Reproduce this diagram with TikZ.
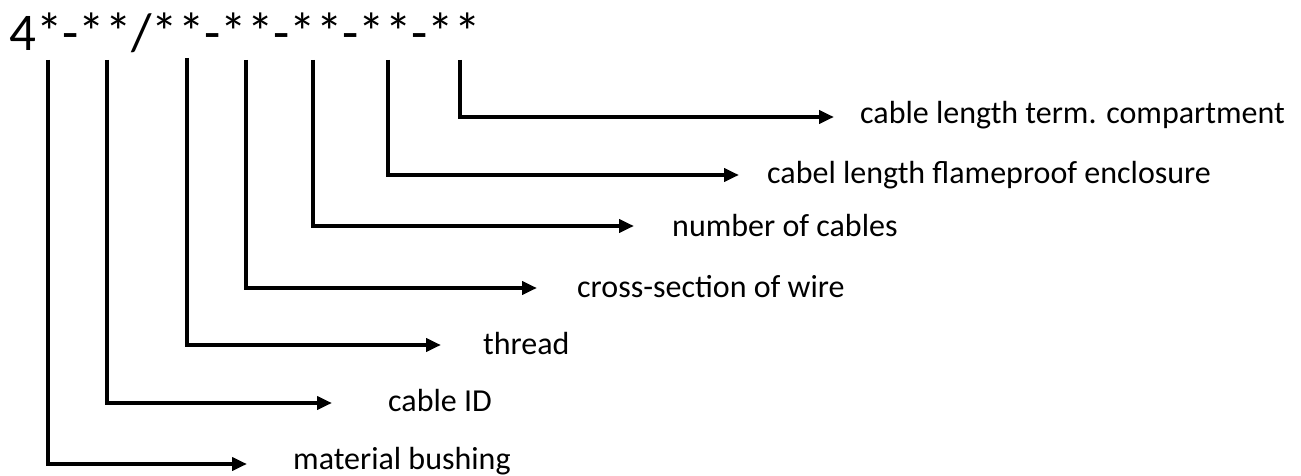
\documentclass[tikz,border=0pt]{standalone}
\usepackage{fontspec}
\setmainfont{Carlito}
\usetikzlibrary{arrows.meta}
\begin{document}
\begin{tikzpicture}[x=1pt,y=-1pt,
  conn/.style={line width=3.8pt,line join=miter,-{Triangle[length=15pt,width=13pt]}},
  lbl/.style={anchor=base west,inner sep=0pt,font=\fontsize{32}{38}\selectfont},
  codetext/.style={anchor=base west,inner sep=0pt,font=\fontsize{53}{60}\selectfont}]
\useasboundingbox (0,0) rectangle (1301,476);
\node[codetext] (code) at (9,51) {4*-**/**-**-**-**-**};
% tops of the verticals
\coordinate (t1) at (48,60);
\coordinate (t2) at (107,60);
\coordinate (t3) at (187,58);
\coordinate (t4) at (246,60);
\coordinate (t5) at (313,60);
\coordinate (t6) at (388,60);
\coordinate (t7) at (460,60);
% arrow tips
\coordinate (e1) at (247,464);
\coordinate (e2) at (332,403);
\coordinate (e3) at (441,345);
\coordinate (e4) at (537,288);
\coordinate (e5) at (634,226);
\coordinate (e6) at (739,175);
\coordinate (e7) at (834,117);
% labels
\node[lbl] (l1) at (293,469) {material bushing};
\node[lbl] (l2) at (388,411) {cable ID};
\node[lbl] (l3) at (483,354) {thread};
\node[lbl] (l4) at (577,297) {cross-section of wire};
\node[lbl] (l5) at (672,236) {number of cables};
\node[lbl] (l6) at (767,183) {cabel length flameproof enclosure};
\node[lbl] (l7) at (860,124) {cable length term. compartment};
% connectors
\draw[conn] (t1) |- (e1);
\draw[conn] (t2) |- (e2);
\draw[conn] (t3) |- (e3);
\draw[conn] (t4) |- (e4);
\draw[conn] (t5) |- (e5);
\draw[conn] (t6) |- (e6);
\draw[conn] (t7) |- (e7);
\end{tikzpicture}
\end{document}
